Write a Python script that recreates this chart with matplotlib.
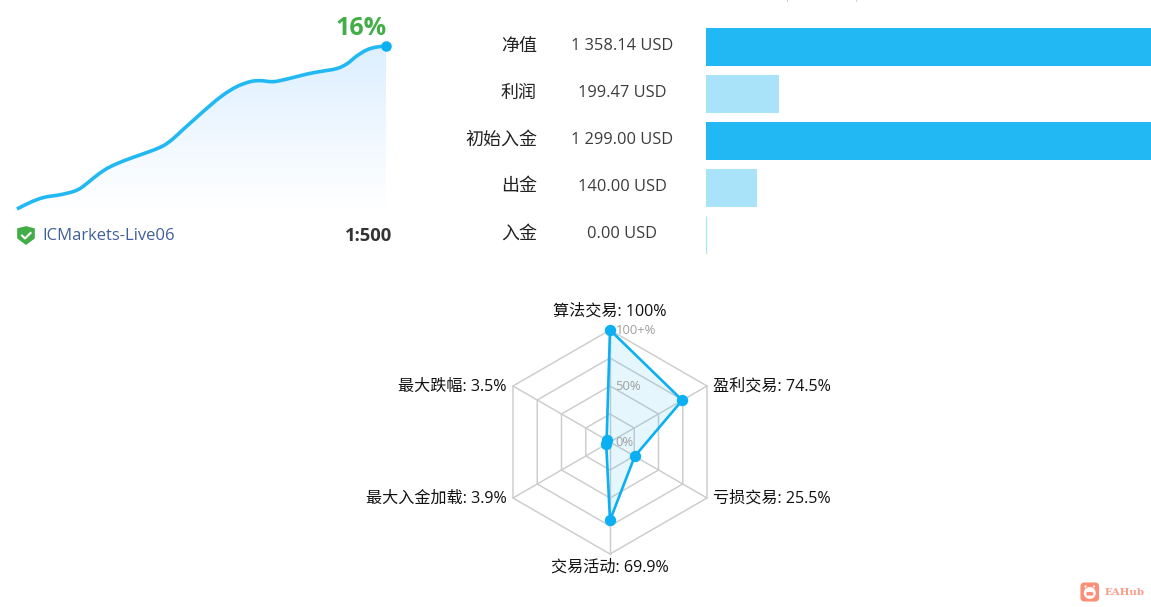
import numpy as np
import matplotlib
matplotlib.use("Agg")
import matplotlib.pyplot as plt
from matplotlib.path import Path
from matplotlib.patches import PathPatch, FancyBboxPatch, Polygon, Circle

plt.rcParams['font.family'] = ['Open Sans', 'Noto Sans CJK SC', 'DejaVu Sans']

# ---------- data ----------
growth_x = [0, 3.6, 7.2, 11.7, 15.3, 17.5, 20.7, 23.8, 27, 31.4, 36, 39.6, 42.3, 45, 48.7, 52.3,
            55.9, 59.6, 63.2, 65.9, 69.4, 73.1, 78.5, 82.1, 86.6, 89.4, 92, 94.8, 97.5, 100]
growth_y = [0.0, 0.65, 1.13, 1.40, 1.72, 2.11, 3.03, 3.85, 4.44, 5.06, 5.65, 6.2, 6.9, 7.8, 9.0, 10.15,
            11.2, 12.02, 12.5, 12.6, 12.5, 12.75, 13.24, 13.49, 13.78, 14.25, 15.0, 15.62, 15.9, 16.0]
growth_label = "16%"
server_name = "ICMarkets-Live06"
leverage = "1:500"

bar_names = ["净值", "利润", "初始入金", "出金", "入金"]
bar_labels = ["1 358.14 USD", "199.47 USD", "1 299.00 USD", "140.00 USD", "0.00 USD"]
bar_values = [1358.14, 199.47, 1299.00, 140.00, 0.00]
bar_strong = [True, False, True, False, False]

radar_names = ["算法交易", "盈利交易", "亏损交易", "交易活动", "最大入金加载", "最大跌幅"]
radar_values = [100, 74.5, 25.5, 69.9, 3.9, 3.5]
radar_value_text = ["100%", "74.5%", "25.5%", "69.9%", "3.9%", "3.5%"]
radar_rings = [25, 50, 75, 100]
radar_ticks = {0: "0%", 50: "50%", 100: "100+%"}

# ---------- figure ----------
W, H = 1151, 607
fig = plt.figure(figsize=(W / 100, H / 100), dpi=100, facecolor="white")


def box(x0, y0, x1, y1, **kw):
    return fig.add_axes([x0 / W, 1 - y1 / H, (x1 - x0) / W, (y1 - y0) / H], **kw)


def px(x, y, s, size, **kw):
    kw.setdefault("va", "center")
    fig.text(x / W, 1 - y / H, s, fontsize=size * 0.72, **kw)


def smooth_path(x, y):
    """Smooth Bezier path through the read points (Catmull-Rom handles)."""
    p = np.c_[x, y]
    q = np.vstack([p[0], p, p[-1]])
    verts = [p[0]]
    codes = [Path.MOVETO]
    for i in range(1, len(q) - 2):
        c1 = q[i] + (q[i + 1] - q[i - 1]) / 6
        c2 = q[i + 1] - (q[i + 2] - q[i]) / 6
        verts += [c1, c2, q[i + 1]]
        codes += [Path.CURVE4] * 3
    return np.array(verts), codes


# ---------- growth curve ----------
ax = box(17, 46, 386, 209)
ax.set_xlim(0, 100)
ax.set_ylim(0, 16)
ax.axis("off")
gx, gy = np.array(growth_x, float), np.array(growth_y, float)
v, c = smooth_path(gx, gy)
fill_path = Path(np.vstack([v, [[gx[-1], 0], [gx[0], 0], [gx[0], 0]]]),
                 c + [Path.LINETO, Path.LINETO, Path.CLOSEPOLY])
rgba = np.ones((256, 1, 4))
rgba[..., 0] = 0.87
rgba[..., 1] = 0.94
rgba[..., 2] = 1.0
rgba[..., 3] = np.linspace(1, 0, 256).reshape(-1, 1)
img = ax.imshow(rgba, extent=(0, 100, 0, 16), aspect="auto", zorder=1, origin="upper")
img.set_clip_path(PathPatch(fill_path, transform=ax.transData))
ax.add_patch(PathPatch(Path(v, c), fc="none", ec="#22b8f4", lw=2.6, capstyle="butt", clip_on=False, zorder=2))
ax.plot(gx[-1:], gy[-1:], "o", color="#0cb0f2", ms=7.6, mew=0, clip_on=False, zorder=3)

px(387, 28.5, growth_label, 25, ha="right", color="#43ad47", fontweight="bold")
px(42, 236.5, server_name, 16.6, ha="left", color="#40609a")
px(392, 236, leverage, 18.5, ha="right", color="#333333", fontweight="bold")

# overlay for icons
ov = fig.add_axes([0, 0, 1, 1], facecolor="none")
ov.set_xlim(0, W)
ov.set_ylim(H, 0)
ov.axis("off")
ov.add_patch(Polygon([(18, 229), (26, 227), (34, 229), (34, 238), (26, 244), (18, 238)],
                     closed=True, fc="#43ad47", ec="#43ad47", lw=1.2, joinstyle="round"))
ov.plot([22, 25, 30.5], [235.5, 238.5, 233], color="white", lw=1.5)
# clipped marks at the very top edge
ov.plot([787.5, 787.5], [0, 1.0], color="#c3ccdd", lw=0.7)
ov.plot([856.5, 856.5], [0, 1.0], color="#e0c8d4", lw=0.7)

# ---------- bars ----------
y_pos = np.arange(len(bar_values))
ax = box(706, 28, 1151, 254)
ax.set_xlim(0, 1216)
ax.set_ylim(len(bar_values) - 1 + 0.404, -0.404)
ax.axis("off")
colors = ["#22b8f4" if s else "#a8e3fa" for s in bar_strong]
ax.barh(y_pos, bar_values, height=38 / 47, color=colors, edgecolor=colors, linewidth=[0, 0, 0, 0, 1.0])
row_y = [47, 94, 141, 188, 235]
for y, n, t in zip(row_y, bar_names, bar_labels):
    px(537, y - 1.5, n, 18, ha="right", color="#222222")
    px(622, y - 1, t, 16.4, ha="center", color="#3c3c3c")

# ---------- radar ----------
cx, cy, R = 610, 442, 112
ax = box(cx - R, cy - R, cx + R, cy + R, projection="polar")
ax.set_theta_zero_location("N")
ax.set_theta_direction(-1)
ax.set_rlim(0, 100)
ax.axis("off")
n = len(radar_values)
th = np.arange(n) * 2 * np.pi / n
thc = np.r_[th, th[0]]
grid = "#cccccc"
for r in radar_rings:
    ax.plot(thc, np.full(n + 1, r), color=grid, lw=1.05, clip_on=False, zorder=1)
for t in th:
    ax.plot([t, t], [0, radar_rings[-1]], color=grid, lw=1.05, clip_on=False, zorder=1)
vals = np.array(radar_values, float)
valsc = np.r_[vals, vals[0]]
ax.fill(thc, valsc, color="#0cb0f2", alpha=0.10, lw=0, zorder=2)
ax.plot(thc, valsc, color="#0cb0f2", lw=1.9, clip_on=False, zorder=3)
ax.plot(th, vals, "o", color="#0cb0f2", ms=8.2, mew=0, clip_on=False, zorder=4)

for r, s in radar_ticks.items():
    px(cx + 5.5, cy + 1 - r / 100 * R, s, 13, ha="left", color="#a0a0a0", zorder=5)

label_pos = [(610, 312, "center"), (713, 386.5, "left"), (713, 498.5, "left"),
             (610, 568, "center"), (507, 498.5, "right"), (507, 386.5, "right")]
for (x, y, ha), nm, t in zip(label_pos, radar_names, radar_value_text):
    px(x, y, f"{nm}: {t}", 16.1, ha=ha, color="#111111")

# ---------- watermark ----------
ov.add_patch(FancyBboxPatch((1081, 583), 17.5, 18, boxstyle="round,pad=0,rounding_size=3.5",
                            fc="#fb8f78", ec="#fb8f78", lw=0.8))
ov.add_patch(Circle((1089.8, 593), 6, fc="white", ec="none"))
ov.add_patch(Circle((1085.5, 586.5), 1.1, fc="white", ec="none"))
ov.add_patch(Circle((1094, 586.5), 1.1, fc="white", ec="none"))
ov.add_patch(FancyBboxPatch((1086.3, 592), 7, 3.6, boxstyle="round,pad=0,rounding_size=1.5",
                            fc="#fb8f78", ec="none"))
px(1105, 592.5, "EAHub", 10.2, ha="left", color="#fb9c88", fontweight="bold", family=["DejaVu Serif"])

fig.savefig("out.png", dpi=100, facecolor="white")
